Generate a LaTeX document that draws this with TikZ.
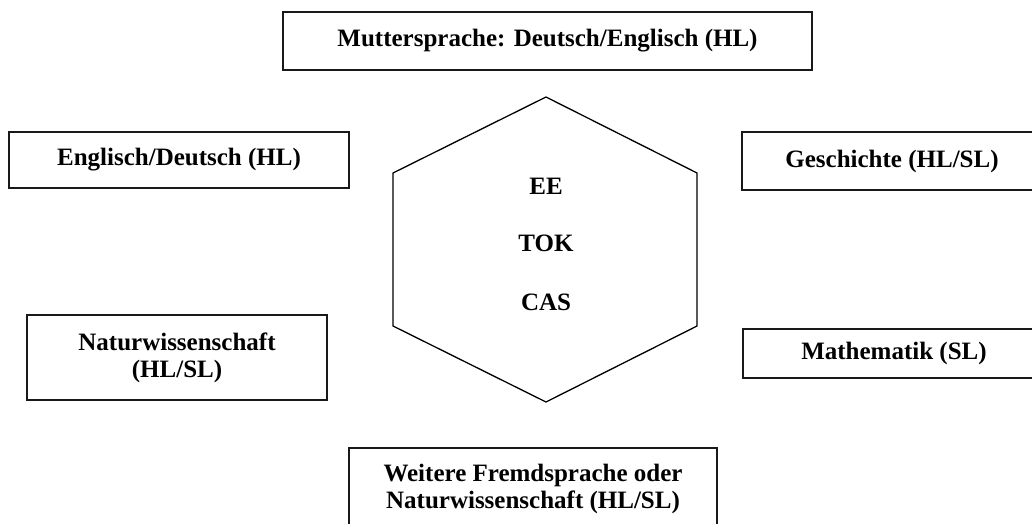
\documentclass[tikz,border=0pt]{standalone}
\usepackage{fontspec}
\setmainfont{Liberation Serif}
\begin{document}
\begin{tikzpicture}[x=1pt,y=-1pt,
  txt/.style={font=\fontsize{25}{27}\selectfont\bfseries, align=center},
  box/.style={txt, draw=black!90, line width=1.7pt, inner sep=0pt},
  lbl/.style={txt, inner sep=0pt},
  hex/.style={draw=black, line width=1.3pt, line join=miter}]
\useasboundingbox (0,0) rectangle (1032,524);
\clip (0,0) rectangle (1032,524);
\node[box, minimum width=529, minimum height=58] (mutter) at (547.5,41) {Muttersprache: Deutsch/Englisch (HL)};
\node[box, minimum width=340, minimum height=56] (engl) at (179,160) {Englisch/Deutsch (HL)};
\node[box, minimum width=300, minimum height=58] (gesch) at (892,161) {Geschichte (HL/SL)};
\node[box, minimum width=300, minimum height=85] (natur) at (177,357.5) {Naturwissenschaft\\(HL/SL)};
\node[box, minimum width=302, minimum height=49] (mathe) at (894,353.5) {Mathematik (SL)};
\node[box, minimum width=368, minimum height=82] (weitere) at (533,489) {Weitere Fremdsprache oder\\Naturwissenschaft (HL/SL)};
\draw[hex] (546,97) -- (697,173) -- (697,326) -- (546,402) -- (393,326) -- (393,173) -- cycle;
\node[lbl] (ee) at (546,186) {EE};
\node[lbl] (tok) at (546,243) {TOK};
\node[lbl] (cas) at (546,302) {CAS};
\end{tikzpicture}
\end{document}
